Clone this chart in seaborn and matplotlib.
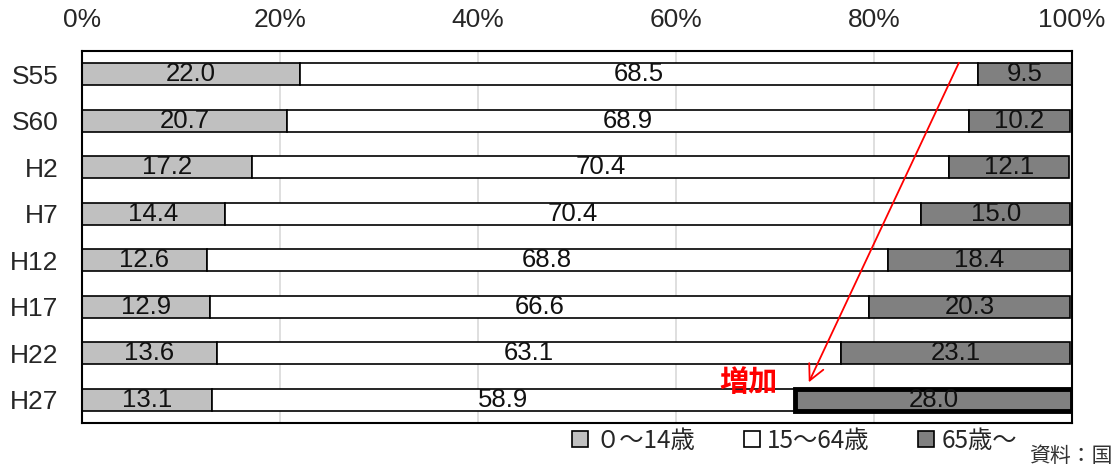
import matplotlib
matplotlib.use("Agg")
import matplotlib.pyplot as plt
import matplotlib.transforms as mtrans
from matplotlib.patches import Patch
import seaborn as sns

# 年齢3区分別人口構成比（%）
years = ['S55', 'S60', 'H2', 'H7', 'H12', 'H17', 'H22', 'H27']
young = [22.0, 20.7, 17.2, 14.4, 12.6, 12.9, 13.6, 13.1]
working = [68.5, 68.9, 70.4, 70.4, 68.8, 66.6, 63.1, 58.9]
elderly = [9.5, 10.2, 12.1, 15.0, 18.4, 20.3, 23.1, 28.0]
series_names = ['０～14歳', '15～64歳', '65歳～']
xticks = [0, 20, 40, 60, 80, 100]

sns.set_style('white')
plt.rcParams['font.family'] = ['Liberation Sans', 'Noto Sans CJK JP', 'DejaVu Sans']
jp = ['Noto Sans CJK JP', 'DejaVu Sans']

colors = ['#c0c0c0', '#ffffff', '#808080']
fig = plt.figure(figsize=(11.16, 4.70), dpi=100)
ax = fig.add_axes([0.0735, 0.100, 0.887, 0.7915])
nudge = mtrans.ScaledTranslation(0, -2.5 / 100, fig.dpi_scale_trans)

# stacked bars: each layer starts where the previous one ends
lefts = [0] * len(years)
for vals, col in zip([young, working, elderly], colors):
    sns.barplot(x=vals, y=years, orient='y', left=lefts, color=col, saturation=1,
                edgecolor='black', linewidth=1.2, width=0.47, ax=ax)
    txts = ax.bar_label(ax.containers[-1], labels=[f'{v:.1f}' for v in vals],
                        label_type='center', fontsize=18.5, color='#111111')
    for t in txts:
        t.set_zorder(6)
        t.set_transform(t.get_transform() + nudge)
    lefts = [a + b for a, b in zip(lefts, vals)]

# H27 の 65歳～ を太枠で強調
hl = ax.containers[-1].patches[-1]
hl.set_linewidth(3.5)
hl.set_zorder(5)

ax.set_xlim(0, 100)
ax.set_ylim(len(years) - 0.5, -0.5)
ax.set_xticks(xticks)
ax.set_xticklabels([f'{t}%' for t in xticks])
ax.xaxis.tick_top()
ax.tick_params(axis='x', length=0, pad=14, labelsize=19)
ax.tick_params(axis='y', length=0, pad=17, labelsize=19)
ax.set_xlabel('')
ax.set_ylabel('')
ax.grid(axis='x', color='#d9d9d9', linewidth=1.2)
ax.set_axisbelow(True)
for s in ax.spines.values():
    s.set_color('black')
    s.set_linewidth(1.5)

ax.annotate('', xy=(73.3, 6.68), xytext=(88.7, -0.3),
            arrowprops=dict(arrowstyle='->', color='red', lw=1.3, mutation_scale=28))
ax.text(67.3, 6.62, '増加', color='red', fontsize=21, family=jp, weight='bold',
        ha='center', va='center')

handles = [Patch(facecolor=c, edgecolor='black', linewidth=1.2) for c in colors]
fig.legend(handles, series_names, loc='center', bbox_to_anchor=(0.712, 0.062), ncol=3,
           frameon=False, prop={'family': jp, 'size': 17.5}, handlelength=0.65,
           handleheight=0.65, handletextpad=0.3, columnspacing=2.0)
fig.text(0.997, 0.018, '資料：国', family=jp, fontsize=15, color='#333333', ha='right')

fig.savefig('out.png', dpi=100)
